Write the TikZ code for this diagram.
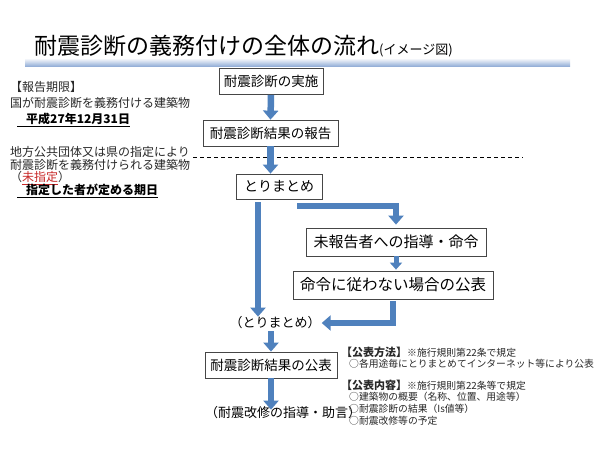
\documentclass[tikz,border=0pt]{standalone}
\usepackage{fontspec}
\setmainfont{Noto Sans CJK JP}
\usetikzlibrary{arrows.meta}
\definecolor{arrowblue}{RGB}{79,129,189}
\definecolor{boxline}{RGB}{70,70,70}
\definecolor{txtgray}{RGB}{40,40,40}
\definecolor{redtxt}{RGB}{200,40,40}
\definecolor{barblue}{RGB}{150,176,216}
\newcommand{\fs}[1]{\fontsize{#1}{#1}\selectfont}
\tikzset{
  flowbox/.style={draw=boxline, line width=0.8pt, fill=white, inner sep=0pt, minimum height=26pt, text=black},
  barrow/.style={draw=arrowblue, line width=6.5pt, -{Triangle[width=15pt,length=9pt]}},
  sarrow/.style={draw=arrowblue, line width=5pt, -{Triangle[width=12pt,length=7pt]}},
  lefttxt/.style={anchor=west, inner sep=0pt, text=txtgray, font=\fs{12}},
  righttxt/.style={anchor=west, inner sep=0pt, text=txtgray, font=\fs{9.8}},
  plaintxt/.style={inner sep=0pt, text=black, font=\fs{13}}
}
\begin{document}
\begin{tikzpicture}[x=1pt,y=-1pt]
\useasboundingbox[fill=white] (0,0) rectangle (600,450);
% title
\node[anchor=west, inner sep=0pt, text=black] (title) at (34,46) {\fs{23}耐震診断の義務付けの全体の流れ{\fs{13}(イメージ図)}};
\shade[top color=white, bottom color=barblue] (25,58) rectangle (570,66);
% dashed line
\coordinate (dl) at (193,157);
\coordinate (dr) at (523,157);
\draw[black, line width=0.8pt, dash pattern=on 4pt off 3pt] (dl) -- (dr);
% boxes
\node[flowbox, minimum width=104pt, font=\fs{13.5}] (b1) at (271,81.5) {耐震診断の実施};
\node[flowbox, minimum width=135pt, font=\fs{13.5}] (b2) at (270.5,133) {耐震診断結果の報告};
\node[flowbox, minimum width=86pt, minimum height=25pt, font=\fs{14}] (b3) at (279,186.5) {とりまとめ};
\node[flowbox, minimum width=180pt, minimum height=28pt, font=\fs{15}] (b4) at (396,242) {未報告者への指導・命令};
\node[flowbox, minimum width=200pt, minimum height=28pt, font=\fs{15.5}] (b5) at (393,285) {命令に従わない場合の公表};
\node[plaintxt] (t1) at (275,323) {（とりまとめ）};
\node[flowbox, minimum width=132pt, font=\fs{13.5}] (b6) at (271,365) {耐震診断結果の公表};
\node[plaintxt] (t2) at (283,413) {（耐震改修の指導・助言）};
% arrows
\draw[barrow] (b1.south) -- (b2.north);
\draw[barrow] (b2.south) -- (b2.south |- b3.north);
\draw[barrow, shorten <=3pt] ([xshift=-21pt]b3.south) -- ([xshift=-21pt]b3.south |- t1.north);
\coordinate (e1) at (297,206);
\draw[barrow, shorten >=3pt] (e1) -| (b4.north);
\draw[sarrow, shorten >=1pt] (b4.south) -- (b4.south |- b5.north);
\draw[barrow, shorten <=2pt, shorten >=1pt] (b5.south) |- (t1.east);
\draw[barrow, shorten <=2pt] ([xshift=-4pt]t1.south) -- ([xshift=-4pt]t1.south |- b6.north);
\draw[barrow] (b6.south) -- ([yshift=-3pt]b6.south |- t2.north);
% left texts
\node[lefttxt] (l1) at (10,87) {【報告期限】};
\node[lefttxt] (l2) at (10,103) {国が耐震診断を義務付ける建築物};
\node[lefttxt, font=\fs{12}\bfseries, text=black] (l3) at (17,120) {\underline{\hspace{9pt}平成27年12月31日}};
\node[lefttxt] (l4) at (10,152) {地方公共団体又は県の指定により};
\node[lefttxt] (l5) at (10,165) {耐震診断を義務付けられる建築物};
\node[lefttxt] (l6) at (10,178) {（\textcolor{redtxt}{\underline{未指定}}）};
\node[lefttxt, font=\fs{12}\bfseries, text=black] (l7) at (17,191) {\underline{\hspace{9pt}指定した者が定める期日}};
% right texts
\node[righttxt] (r1) at (341,352) {{\fs{11}\bfseries 【公表方法】}※施行規則第22条で規定};
\node[righttxt] (r2) at (349,364) {○各用途毎にとりまとめてインターネット等により公表};
\node[righttxt] (r3) at (341,385) {{\fs{11}\bfseries 【公表内容】}※施行規則第22条等で規定};
\node[righttxt] (r4) at (349,397) {○建築物の概要（名称、位置、用途等）};
\node[righttxt] (r5) at (349,409) {○耐震診断の結果（Is値等）};
\node[righttxt] (r6) at (349,421) {○耐震改修等の予定};
\end{tikzpicture}
\end{document}
